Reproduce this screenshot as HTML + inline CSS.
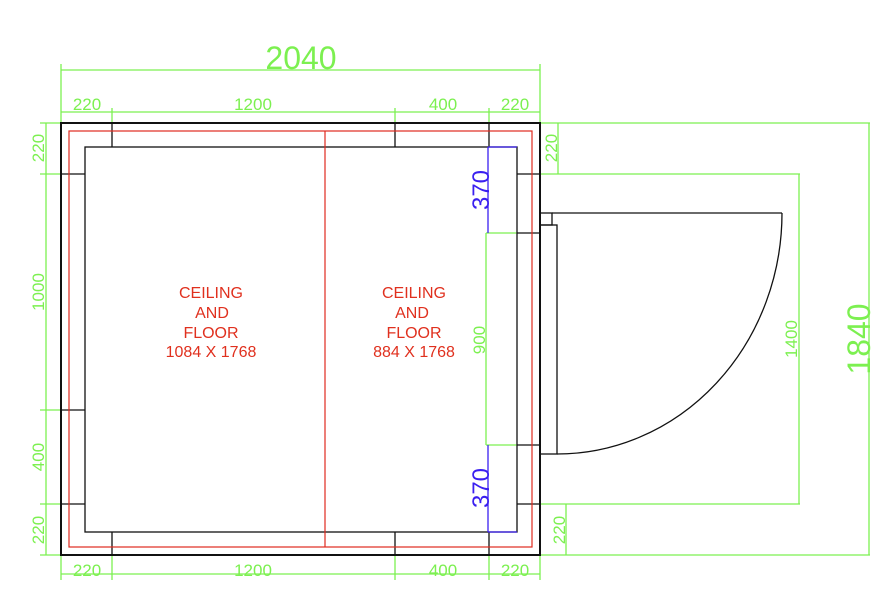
<!DOCTYPE html>
<html><head><meta charset="utf-8"><style>
html,body{margin:0;padding:0;background:#fff;}
svg{display:block}
text{font-family:"Liberation Sans",sans-serif;}
</style></head><body>
<svg width="886" height="599" viewBox="0 0 886 599" xmlns="http://www.w3.org/2000/svg">
<g fill="none" stroke="#7cf050" stroke-width="1.3">
 <line x1="61" y1="70" x2="540" y2="70"/>
 <line x1="61" y1="64" x2="61" y2="123"/>
 <line x1="540" y1="64" x2="540" y2="123"/>
 <line x1="61" y1="112" x2="540" y2="112"/>
 <line x1="112" y1="108" x2="112" y2="123"/>
 <line x1="395" y1="108" x2="395" y2="123"/>
 <line x1="489" y1="108" x2="489" y2="123"/>
 <line x1="61" y1="574" x2="540" y2="574"/>
 <line x1="61" y1="555" x2="61" y2="580"/>
 <line x1="112" y1="555" x2="112" y2="580"/>
 <line x1="395" y1="555" x2="395" y2="580"/>
 <line x1="489" y1="555" x2="489" y2="580"/>
 <line x1="540" y1="555" x2="540" y2="580"/>
 <line x1="46" y1="123" x2="46" y2="555"/>
 <line x1="40" y1="123" x2="61" y2="123"/>
 <line x1="40" y1="174" x2="61" y2="174"/>
 <line x1="40" y1="410" x2="61" y2="410"/>
 <line x1="40" y1="504" x2="61" y2="504"/>
 <line x1="40" y1="555" x2="61" y2="555"/>
 <line x1="540" y1="123" x2="870" y2="123"/>
 <line x1="540" y1="174" x2="800" y2="174"/>
 <line x1="540" y1="504" x2="800" y2="504"/>
 <line x1="540" y1="555" x2="870" y2="555"/>
 <line x1="558" y1="123" x2="558" y2="174"/>
 <line x1="566" y1="504" x2="566" y2="555"/>
 <line x1="799" y1="174" x2="799" y2="504"/>
 <line x1="869" y1="123" x2="869" y2="555"/>
 <line x1="486" y1="233" x2="486" y2="445"/>
 <line x1="486" y1="233" x2="517" y2="233"/>
 <line x1="486" y1="445" x2="517" y2="445"/>
</g>
<g fill="#7cf050">
 <text x="301" y="69" font-size="32" text-anchor="middle">2040</text>
 <text x="87" y="110" font-size="17" text-anchor="middle">220</text>
 <text x="253" y="110" font-size="17" text-anchor="middle">1200</text>
 <text x="443" y="110" font-size="17" text-anchor="middle">400</text>
 <text x="515" y="110" font-size="17" text-anchor="middle">220</text>
 <text x="87" y="576" font-size="17" text-anchor="middle">220</text>
 <text x="253" y="576" font-size="17" text-anchor="middle">1200</text>
 <text x="443" y="576" font-size="17" text-anchor="middle">400</text>
 <text x="515" y="576" font-size="17" text-anchor="middle">220</text>
 <text transform="translate(44,148) rotate(-90)" font-size="17" text-anchor="middle">220</text>
 <text transform="translate(44,292) rotate(-90)" font-size="17" text-anchor="middle">1000</text>
 <text transform="translate(44,457) rotate(-90)" font-size="17" text-anchor="middle">400</text>
 <text transform="translate(44,530) rotate(-90)" font-size="17" text-anchor="middle">220</text>
 <text transform="translate(557,148) rotate(-90)" font-size="17" text-anchor="middle">220</text>
 <text transform="translate(565,530) rotate(-90)" font-size="17" text-anchor="middle">220</text>
 <text transform="translate(797,339) rotate(-90)" font-size="17" text-anchor="middle">1400</text>
 <text transform="translate(485,340) rotate(-90)" font-size="17" text-anchor="middle">900</text>
 <text transform="translate(870,339) rotate(-90)" font-size="32" text-anchor="middle">1840</text>
</g>
<g fill="none" stroke="#111" stroke-width="1.3">
 <rect x="61" y="123" width="479" height="432" stroke-width="2"/>
 <rect x="85" y="147" width="432" height="385"/>
 <line x1="112" y1="123" x2="112" y2="147"/><line x1="395" y1="123" x2="395" y2="147"/><line x1="489" y1="123" x2="489" y2="147"/>
 <line x1="112" y1="532" x2="112" y2="555"/><line x1="395" y1="532" x2="395" y2="555"/><line x1="489" y1="532" x2="489" y2="555"/>
 <line x1="61" y1="174" x2="85" y2="174"/><line x1="61" y1="410" x2="85" y2="410"/><line x1="61" y1="504" x2="85" y2="504"/>
 <line x1="517" y1="174" x2="540" y2="174"/><line x1="517" y1="233" x2="540" y2="233"/>
 <line x1="517" y1="445" x2="540" y2="445"/><line x1="517" y1="504" x2="540" y2="504"/>
 <rect x="540" y="213" width="12" height="12"/>
 <rect x="540" y="225" width="17" height="229"/>
 <line x1="552" y1="213" x2="782" y2="213"/>
 <path d="M782 213 A225 241 0 0 1 557 454"/>
</g>
<g fill="none" stroke="#e02a1e" stroke-width="1.2">
 <rect x="69" y="131" width="463" height="416"/>
 <line x1="325" y1="131" x2="325" y2="547"/>
</g>
<g stroke="#3a1ff0" stroke-width="1.3">
 <line x1="488" y1="147" x2="488" y2="233"/>
 <line x1="488" y1="147" x2="517" y2="147"/>
 <line x1="488" y1="445" x2="488" y2="532"/>
 <line x1="488" y1="532" x2="517" y2="532"/>
</g>
<g fill="#3a1ff0">
 <text transform="translate(489,190) rotate(-90)" font-size="24" text-anchor="middle">370</text>
 <text transform="translate(489,488) rotate(-90)" font-size="24" text-anchor="middle">370</text>
</g>
<g fill="#e0301e" font-size="16" text-anchor="middle">
 <text x="211" y="298">CEILING</text><text x="212" y="318">AND</text><text x="211" y="338">FLOOR</text><text x="211" y="357">1084 X 1768</text>
 <text x="414" y="298">CEILING</text><text x="412" y="318">AND</text><text x="414" y="338">FLOOR</text><text x="414" y="357">884 X 1768</text>
</g>
</svg>
</body></html>
